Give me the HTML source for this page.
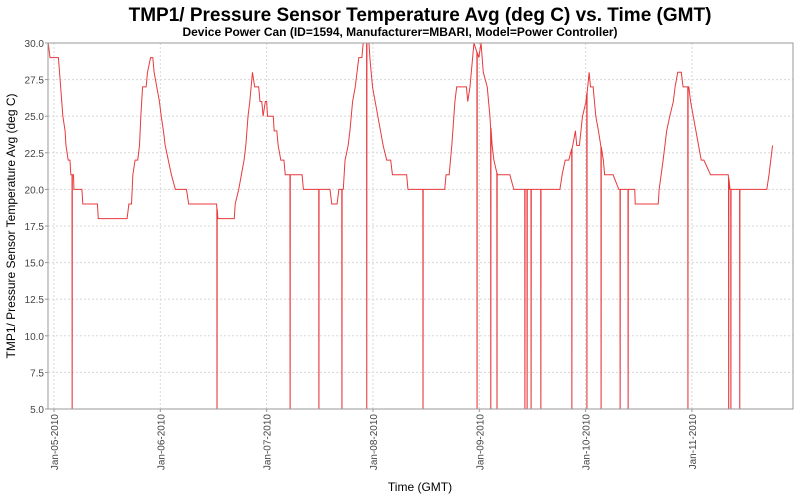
<!DOCTYPE html>
<html><head><meta charset="utf-8"><style>
body{margin:0;background:#fff;}
svg{display:block;font-family:"Liberation Sans",sans-serif;}
</style></head><body>
<svg id="chart" width="800" height="500">
<text x="420" y="21" text-anchor="middle" font-size="19" font-weight="bold">TMP1/ Pressure Sensor Temperature Avg (deg C) vs. Time (GMT)</text>
<text x="400" y="36" text-anchor="middle" font-size="12" font-weight="bold">Device Power Can (ID=1594, Manufacturer=MBARI, Model=Power Controller)</text>
<rect x="48" y="43" width="745" height="366" fill="#fff"/>
<g id="grid"></g>
<g id="series"></g>
<rect x="48" y="43" width="745" height="366" fill="none" stroke="#999"/>
<g id="yaxis"></g>
<g id="xaxis"></g>
<text transform="translate(15,226) rotate(-90)" text-anchor="middle" font-size="12">TMP1/ Pressure Sensor Temperature Avg (deg C)</text>
<text x="420" y="491" text-anchor="middle" font-size="12">Time (GMT)</text>
</svg>
<script>
const yTicks=[5,7.5,10,12.5,15,17.5,20,22.5,25,27.5,30];
const xTickDays=[0,1,2,3,4,5,6];
const xTickLabels=["Jan-05-2010","Jan-06-2010","Jan-07-2010","Jan-08-2010","Jan-09-2010","Jan-10-2010","Jan-11-2010"];
const times=[-1.3,-0.9,1.0,1.5,2.0,2.5,2.7,3.2,3.6,3.8,4.4,4.5,6.3,6.5,9.8,10.0,16.5,16.9,17.5,17.8,18.3,18.9,19.3,19.6,20.0,20.8,21.1,21.8,22.3,22.6,23.2,23.8,24.2,24.7,25.1,25.8,26.5,27.4,29.9,30.4,36.7,37.0,40.7,40.9,41.7,42.3,42.9,43.3,43.8,44.2,44.8,45.3,46.2,46.5,46.9,47.2,47.7,48.0,48.2,49.5,49.7,50.3,50.6,51.2,51.9,52.2,56.0,56.3,62.3,62.7,63.9,64.3,64.8,65.3,65.7,66.4,66.8,67.4,68.0,68.8,69.5,69.8,71.1,71.3,71.9,72.5,73.1,73.7,74.3,75.1,76.0,76.4,79.6,79.9,88.2,88.5,89.2,89.8,90.5,90.9,93.1,93.4,93.9,94.5,94.8,95.9,96.4,96.9,97.8,98.4,98.9,99.3,100.1,100.7,102.9,103.8,114.2,114.7,115.4,116.2,117.1,117.7,118.0,118.6,119.3,120.1,120.8,121.1,121.7,122.3,122.9,124.0,124.3,126.2,127.5,131.1,131.2,136.4,136.6,137.5,138.3,139.0,139.8,140.2,140.8,141.6,142.0,143.3,143.7,144.3,144.9,145.5,146.1,146.7,148.2,152.2,152.6,160.9,161.4,161.8,162.2];
const temps=[30,29,29,27,25,24,23,22,22,21,21,20,20,19,19,18,18,19,19,21,22,22,23,25,27,27,28,29,29,28,27,26,25,24,23,22,21,20,20,19,19,18,18,19,20,21,22,23,25,26,28,27,27,26,26,25,26,26,25,25,24,24,23,22,22,21,21,20,20,19,19,20,20,20,22,23,24,26,27,29,29,30,30,29,27,26,25,24,23,22,22,21,21,20,20,21,21,23,26,27,27,26,27,29,30,29,30,28,27,25,23,22,21,21,21,20,20,21,22,22,23,24,23,23,25,26,28,27,27,25,24,22,21,21,20,20,19,19,20,22,24,25,26,27,28,28,27,27,26,25,24,23,22,22,21,21,20,20,21,22,23];
const dropTimes=[4.1,36.8,53.3,59.8,65.0,70.6,83.3,95.5,98.6,100.0,106.3,106.8,107.7,109.9,116.9,120.3,123.5,127.8,129.6,143.1,152.3,152.8,154.8];
const dropValue=0;

const L=48,R=793,T=43,B=409;
const yMin=5,yMax=30;
const hMin=-1.35,hPerPx=1/4.43;
const sy=v=>B-(v-yMin)/(yMax-yMin)*(B-T);
const sx=h=>54+h*4.43;
const NS="http://www.w3.org/2000/svg";
function mk(tag,attrs,parent){const e=document.createElementNS(NS,tag);for(const k in attrs)e.setAttribute(k,attrs[k]);parent.appendChild(e);return e;}
const grid=document.getElementById('grid'),ya=document.getElementById('yaxis'),xa=document.getElementById('xaxis'),ser=document.getElementById('series');
yTicks.forEach(v=>{
  const y=sy(v);
  if(v>yMin&&v<yMax){const g=mk('line',{x1:L,x2:R,y1:y,y2:y,stroke:'#d8d8d8','stroke-dasharray':'2,2'},grid);
  
  }
  const t=mk('line',{x1:L-3,x2:L,y1:y,y2:y,stroke:'#999'},ya);
  
  
  const tx=mk('text',{x:L-4,y:y+4,'text-anchor':'end','font-size':'10',fill:'#444'},ya);
  tx.textContent=v.toFixed(1);
  
  
});
xTickDays.forEach((d,i)=>{
  const x=sx(d*24);
  const g=mk('line',{x1:x,x2:x,y1:T,y2:B,stroke:'#d8d8d8','stroke-dasharray':'2,2'},grid);
  
  
  const t=mk('line',{x1:x,x2:x,y1:B,y2:B+3,stroke:'#999'},xa);
  
  
  const tx=mk('text',{transform:`translate(${x+4},${B+5}) rotate(-90)`,'text-anchor':'end','font-size':'10',fill:'#444'},xa);
  tx.textContent=xTickLabels[i];
  
  
});
function interp(t){
  for(let i=0;i<times.length-1;i++){if(t>=times[i]&&t<=times[i+1]){const f=(t-times[i])/(times[i+1]-times[i]);return temps[i]+f*(temps[i+1]-temps[i]);}}
  return temps[temps.length-1];
}
let pts=times.map((t,i)=>[t,temps[i]]);
dropTimes.forEach(t=>{const v=interp(t);pts.push([t-0.04,v],[t,dropValue],[t+0.04,v]);});
pts.sort((a,b)=>a[0]-b[0]);
const cp=mk('clipPath',{id:'clip'},ser);
mk('rect',{x:L,y:T,width:R-L,height:B-T},cp);
const p=mk('path',{d:'M'+pts.map(q=>sx(q[0]).toFixed(2)+','+sy(q[1]).toFixed(2)).join('L'),fill:'none',stroke:'#e8393c','stroke-width':'1','clip-path':'url(#clip)'},ser);


</script>
</body></html>
